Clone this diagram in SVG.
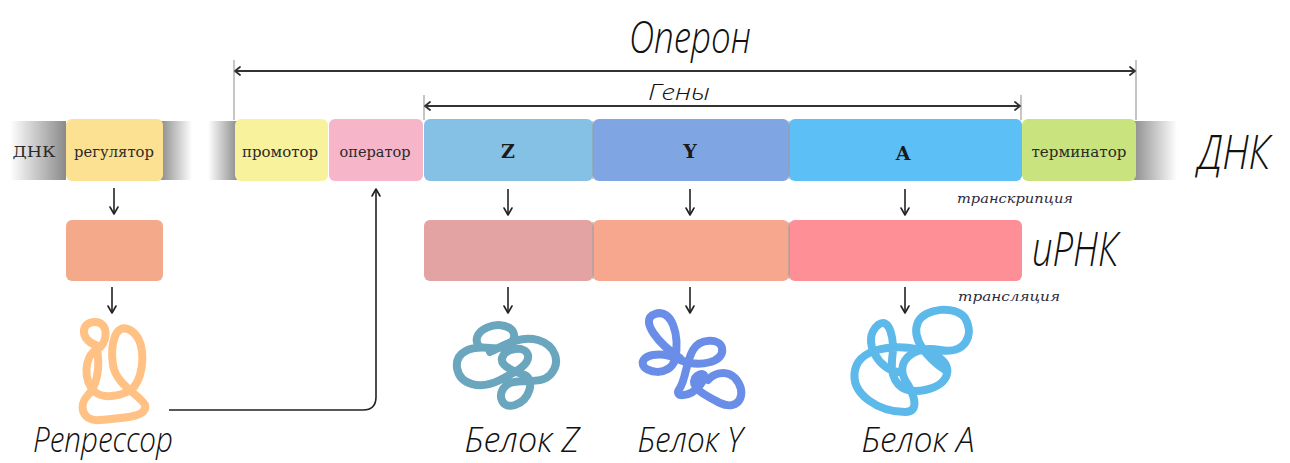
<svg xmlns="http://www.w3.org/2000/svg" width="1290" height="463" viewBox="0 0 1290 463">
  <defs>
    <linearGradient id="fadeIn" x1="0" x2="1" y1="0" y2="0">
      <stop offset="0" stop-color="#ffffff"/>
      <stop offset="1" stop-color="#8a8a8a"/>
    </linearGradient>
    <linearGradient id="fadeOut" x1="0" x2="1" y1="0" y2="0">
      <stop offset="0" stop-color="#8a8a8a"/>
      <stop offset="1" stop-color="#ffffff"/>
    </linearGradient>
    <marker id="ah" viewBox="0 0 10 10" refX="9" refY="5" markerWidth="10" markerHeight="10" markerUnits="userSpaceOnUse" orient="auto-start-reverse">
      <path d="M2 1 L9 5 L2 9" fill="none" stroke="#222" stroke-width="1.6" stroke-linecap="round" stroke-linejoin="round"/>
    </marker>
    <marker id="ahs" viewBox="0 0 10 10" refX="9" refY="5" markerWidth="10" markerHeight="10" markerUnits="userSpaceOnUse" orient="auto-start-reverse">
      <path d="M4 1 L9 5 L4 9" fill="none" stroke="#333" stroke-width="1.8" stroke-linecap="round" stroke-linejoin="round"/>
    </marker>
  </defs>
  <style>
    .box { stroke: none; }
    .lbl { font-family: "DejaVu Serif", "Liberation Serif", serif; font-size: 14.5px; fill: #2a2a2a; text-anchor: middle; dominant-baseline: central; }
    .gene { font-family: "DejaVu Serif", "Liberation Serif", serif; font-size: 19px; font-weight: bold; fill: #1a1a1a; text-anchor: middle; dominant-baseline: central; }
    .proc { font-family: "DejaVu Serif", "Liberation Serif", serif; font-size: 13.5px; font-style: italic; fill: #2a2a3a; }
    .hand { font-family: "Open Sans", "DejaVu Sans", sans-serif; font-weight: 300; font-style: italic; fill: #111; }
    .arr { fill: none; stroke: #222; stroke-width: 1.6; marker-end: url(#ah); }
    .dim { fill: none; stroke: #333; stroke-width: 2; marker-start: url(#ahs); marker-end: url(#ahs); }
    .tick { stroke: #a0a0a0; stroke-width: 1.2; }
    .prot { fill: none; stroke-width: 8; stroke-linecap: round; stroke-linejoin: round; }
    .sep { stroke: #9a9a9a; stroke-width: 1; }
  </style>

  <!-- operon / genes dimension lines -->
  <g id="dimensions">
    <line class="tick" x1="234" y1="60" x2="234" y2="120"/>
    <line class="tick" x1="1136" y1="60" x2="1136" y2="120"/>
    <line class="tick" x1="424" y1="95" x2="424" y2="120"/>
    <line class="tick" x1="1021" y1="95" x2="1021" y2="120"/>
    <line class="dim" x1="235" y1="71" x2="1135" y2="71"/>
    <line class="dim" x1="425" y1="106" x2="1020" y2="106"/>
    <text class="hand" x="690" y="53" font-size="44" text-anchor="middle" textLength="122" lengthAdjust="spacingAndGlyphs">Оперон</text>
    <text class="hand" x="679" y="100" font-size="22" text-anchor="middle" textLength="62" lengthAdjust="spacingAndGlyphs">Гены</text>
  </g>

  <!-- DNA strand -->
  <g id="dna">
    <rect x="10" y="121" width="56" height="59" fill="url(#fadeIn)"/>
    <text class="lbl" x="34" y="152" textLength="43" lengthAdjust="spacingAndGlyphs">ДНК</text>
    <rect x="160" y="121" width="32" height="59" fill="url(#fadeOut)"/>
    <rect x="208" y="121" width="30" height="59" fill="url(#fadeIn)"/>
    <rect x="1132" y="121" width="45" height="59" fill="url(#fadeOut)"/>
    <text class="hand" x="1234" y="169" font-size="48" text-anchor="middle" textLength="72" lengthAdjust="spacingAndGlyphs">ДНК</text>
  </g>

  <g id="regulator">
    <rect class="box" x="66" y="119" width="97" height="62" rx="6" fill="#fde192"/>
    <text class="lbl" x="114" y="152" textLength="80" lengthAdjust="spacingAndGlyphs">регулятор</text>
  </g>
  <g id="promoter">
    <rect class="box" x="235" y="119" width="93" height="62" rx="6" fill="#f8f29c"/>
    <text class="lbl" x="280" y="152" textLength="76" lengthAdjust="spacingAndGlyphs">промотор</text>
  </g>
  <g id="operator">
    <rect class="box" x="329" y="119" width="94" height="62" rx="6" fill="#f6b5c9"/>
    <text class="lbl" x="375" y="152" textLength="71" lengthAdjust="spacingAndGlyphs">оператор</text>
  </g>
  <g id="gene-z">
    <rect class="box" x="424" y="119" width="169" height="62" rx="6" fill="#84c1e4"/>
    <text class="gene" x="508" y="151">Z</text>
  </g>
  <g id="gene-y">
    <rect class="box" x="593" y="119" width="196" height="62" rx="6" fill="#7fa6e3"/>
    <text class="gene" x="690" y="151">Y</text>
  </g>
  <g id="gene-a">
    <rect class="box" x="789" y="119" width="233" height="62" rx="6" fill="#5cbff5"/>
    <text class="gene" x="903" y="153">A</text>
  </g>
  <g id="terminator">
    <rect class="box" x="1022" y="119" width="114" height="62" rx="6" fill="#c9e47e"/>
    <text class="lbl" x="1079" y="152" textLength="95" lengthAdjust="spacingAndGlyphs">терминатор</text>
  </g>
  <line class="sep" x1="593" y1="121" x2="593" y2="179"/>
  <line class="sep" x1="789" y1="121" x2="789" y2="179"/>

  <!-- repressor mRNA -->
  <g id="regulator-mrna">
    <rect class="box" x="66" y="220" width="97" height="61" rx="6" fill="#f4a98b"/>
  </g>

  <!-- operon mRNA -->
  <g id="mrna">
    <rect class="box" x="424" y="220" width="169" height="61" rx="6" fill="#e4a3a3"/>
    <rect class="box" x="593" y="220" width="196" height="61" rx="6" fill="#f6a78e"/>
    <rect class="box" x="789" y="220" width="233" height="61" rx="6" fill="#ff8f96"/>
    <line class="sep" x1="593" y1="222" x2="593" y2="279"/>
    <line class="sep" x1="789" y1="222" x2="789" y2="279"/>
    <text class="hand" x="1075" y="266" font-size="48" text-anchor="middle" textLength="86" lengthAdjust="spacingAndGlyphs">иРНК</text>
  </g>

  <g id="process-labels">
    <text class="proc" x="957" y="203" textLength="116" lengthAdjust="spacingAndGlyphs">транскрипция</text>
    <text class="proc" x="958" y="301" textLength="102" lengthAdjust="spacingAndGlyphs">трансляция</text>
  </g>

  <!-- proteins -->
  <g id="repressor">
    <path class="prot" stroke="#ffc184" d="M96 345 C80 340 80 322 95 322 C110 322 108 345 96 350 C85 356 82 380 95 392 C105 400 125 395 133 388 C145 375 147 340 130 330 C115 322 110 345 113 365 C116 385 140 395 145 405 C148 418 120 418 100 420 C82 422 78 405 88 395 C95 388 102 370 96 345 Z"/>
    <text class="hand" x="103" y="452" font-size="35" text-anchor="middle" textLength="140" lengthAdjust="spacingAndGlyphs">Репрессор</text>
  </g>
  <g id="protein-z">
    <path class="prot" stroke="#6aa6be" d="M478 345 C470 330 500 318 512 330 C520 340 505 350 490 348 C470 346 455 352 457 368 C460 385 480 390 500 380 C515 372 530 365 528 355 C525 345 505 348 502 358 C500 366 515 372 525 375 C535 380 530 400 515 405 C500 410 495 390 510 383 C525 378 540 385 550 375 C562 362 555 345 538 340 C520 335 505 345 490 352"/>
    <text class="hand" x="522" y="452" font-size="34" text-anchor="middle" textLength="115" lengthAdjust="spacingAndGlyphs">Белок Z</text>
  </g>
  <g id="protein-y">
    <path class="prot" stroke="#6a8ee8" d="M680 358 C660 345 638 320 655 314 C672 308 680 335 675 360 C668 378 645 372 643 365 C640 355 660 350 680 360 C700 368 725 362 722 348 C720 338 700 338 693 350 C686 362 686 378 680 388 C672 398 690 398 700 385 C710 372 700 372 695 378 C690 388 705 395 720 403 C740 412 748 392 735 378 C725 368 712 375 708 380"/>
    <text class="hand" x="690" y="452" font-size="34" text-anchor="middle" textLength="105" lengthAdjust="spacingAndGlyphs">Белок Y</text>
  </g>
  <g id="protein-a">
    <path class="prot" stroke="#5cb9e9" d="M900 372 C880 372 860 340 878 325 C890 316 895 340 892 360 C890 380 900 395 925 390 C950 385 955 365 935 355 C905 342 860 345 855 370 C850 395 880 412 905 412 C920 412 915 395 905 380 C895 360 915 345 940 350 C965 355 975 335 965 318 C955 305 925 308 918 322 C910 340 930 360 945 370"/>
    <text class="hand" x="918" y="452" font-size="34" text-anchor="middle" textLength="113" lengthAdjust="spacingAndGlyphs">Белок A</text>
  </g>

  <!-- arrows -->
  <g id="connectors">
    <line class="arr" x1="114" y1="188" x2="114" y2="214"/>
    <line class="arr" x1="112" y1="287" x2="112" y2="313"/>
    <line class="arr" x1="508" y1="189" x2="508" y2="215"/>
    <line class="arr" x1="690" y1="189" x2="690" y2="215"/>
    <line class="arr" x1="905" y1="189" x2="905" y2="215"/>
    <line class="arr" x1="508" y1="287" x2="508" y2="313"/>
    <line class="arr" x1="690" y1="287" x2="690" y2="313"/>
    <line class="arr" x1="905" y1="287" x2="905" y2="313"/>
    <path class="arr" stroke="#333" stroke-width="2" d="M169 410 H363 Q376 410 376 397 V189"/>
  </g>
</svg>
